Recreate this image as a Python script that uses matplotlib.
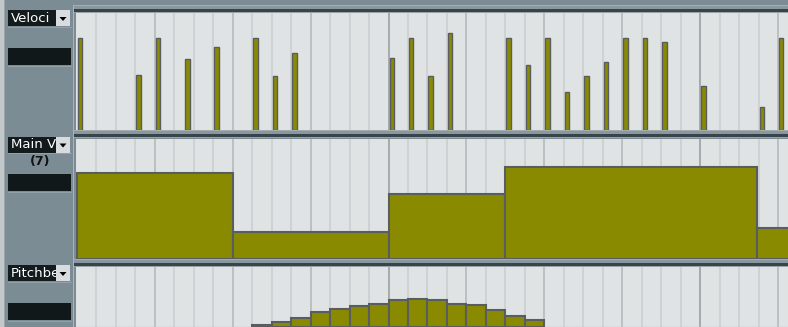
import matplotlib
matplotlib.use("Agg")
import matplotlib.pyplot as plt
from matplotlib.patches import Rectangle, Polygon

W, H = 788, 327

# grid positions are in 1/16 steps from the lane start
vel_pos = [0, 3, 4, 5.5, 7, 9, 10, 11, 16, 17, 18, 19, 22, 23, 24, 25, 26, 27, 28, 29, 30, 32, 35, 36]
vel_val = [100, 60, 100, 77, 90, 100, 58, 83, 78, 100, 58, 105, 100, 70, 100, 41, 58, 74, 100, 100, 96, 48, 25, 100]

vol_start = [0, 8, 16, 22, 34.9]
vol_end = [8, 16, 22, 34.9, 37]
vol_val = [90, 28, 68, 97, 32]

pb_pos = [9, 10, 11, 12, 13, 14, 15, 16, 17, 18, 19, 20, 21, 22, 23]
pb_val = [200, 610, 1150, 1960, 2370, 2780, 3140, 3590, 3760, 3590, 3140, 2950, 2230, 1460, 840]

lane_names = ["Velocity", "Main Volume", "Pitchbend"]
lane_labels = ["Veloci", "Main V", "Pitchbe"]

PANEL = "#7b8c94"
LANE_BG = "#dfe3e4"
OLIVE = "#8a8a00"
EDGE = "#5a5d5f"
STEP = 19.5
X0 = 76

fig = plt.figure(figsize=(W / 100, H / 100), dpi=100)
fig.patch.set_facecolor(PANEL)

bg = fig.add_axes([0, 0, 1, 1])
bg.set_xlim(0, W)
bg.set_ylim(H, 0)
bg.axis("off")


def rect(x0, y0, x1, y1, c, z=1, **kw):
    bg.add_patch(Rectangle((x0, y0), x1 - x0, y1 - y0, facecolor=c, edgecolor="none", zorder=z, **kw))


def px_axes(x0, y0, x1, y1):
    return fig.add_axes([x0 / W, 1 - y1 / H, (x1 - x0) / W, (y1 - y0) / H])


# left edge and panel separators
rect(0, 0, 4, H, "#c3c8cb")
rect(4, 0, 5, H, "#9aa5aa")
rect(73, 5, 74.5, H, "#a9b3b8")


def separator(y):
    rect(74, y, W, y + 1.5, "#a3aeb3")
    rect(74, y + 1.5, W, y + 4.5, "#8a979d")
    rect(74, y + 4.5, W, y + 7, "#374449")
    rect(74, y + 7, W, y + 8.5, "#98a4aa")


separator(4.5)
separator(129.8)
separator(258.5)

lanes = [(13, 129.8), (138.5, 258.5), (266.5, 386.5)]
label_y = [10, 136.5, 265]
field_y = [47.7, 174, 303]

for (ly0, ly1), name, lab, ty, fy in zip(lanes, lane_names, lane_labels, label_y, field_y):
    # label box with dropdown button
    rect(8, ty, 56, ty + 16, "#131b1d", z=2)
    bg.text(11, ty + 8.5, lab, color="white", fontsize=9.5, va="center", ha="left", zorder=3,
            family="DejaVu Sans")
    rect(56, ty, 70.5, ty + 16, "#d9dcde", z=5)
    bg.add_patch(Polygon([[59.5, ty + 7], [66.5, ty + 7], [63, ty + 11]], closed=True,
                         facecolor="black", edgecolor="none", zorder=6))
    rect(8, ty + 16.5, 72, ty + 17.5, "#93a1a7", z=2)
    # dark value field
    rect(8, fy, 71.5, fy + 17, "#111819", z=2)
    rect(8, fy + 18, 72, fy + 19, "#93a1a7", z=2)

bg.text(40, 162, "(7)", color="#111111", fontsize=9, fontweight="bold", ha="center", va="center")


def lane_axes(y0, y1, ylim):
    ax = px_axes(X0, y0, W, y1)
    ax.set_xlim(-0.05, (W - X0) / STEP)
    ax.set_ylim(*ylim)
    ax.set_facecolor(LANE_BG)
    for k in range(1, 37):
        if k % 16 == 0:
            c = "#a2a6a9"
        elif k % 4 == 0:
            c = "#b9bdc0"
        else:
            c = "#cdd1d3"
        ax.axvline(k, color=c, lw=1.3, zorder=0.5)
    ax.set_xticks([])
    ax.set_yticks([])
    for s in ax.spines.values():
        s.set_visible(False)
    return ax


ax_vel = lane_axes(lanes[0][0], lanes[0][1], (0, 127))
ax_vel.bar([p + 0.05 for p in vel_pos], vel_val, width=0.23, align="edge",
           color=OLIVE, edgecolor=EDGE, linewidth=1.0, zorder=2)

ax_vol = lane_axes(lanes[1][0], lanes[1][1], (0, 127))
ax_vol.bar(vol_start, vol_val, width=[e - s for s, e in zip(vol_start, vol_end)], align="edge",
           color=OLIVE, edgecolor=EDGE, linewidth=1.5, zorder=2)

ax_pb = lane_axes(lanes[2][0], lanes[2][1], (-8192, 8192))
ax_pb.axhline(0, color="#c5c9cb", lw=1, zorder=1)
ax_pb.bar(pb_pos, pb_val, width=1, align="edge",
          color=OLIVE, edgecolor=EDGE, linewidth=1.5, zorder=2)

fig.savefig("out.png", dpi=100, facecolor=fig.get_facecolor())
